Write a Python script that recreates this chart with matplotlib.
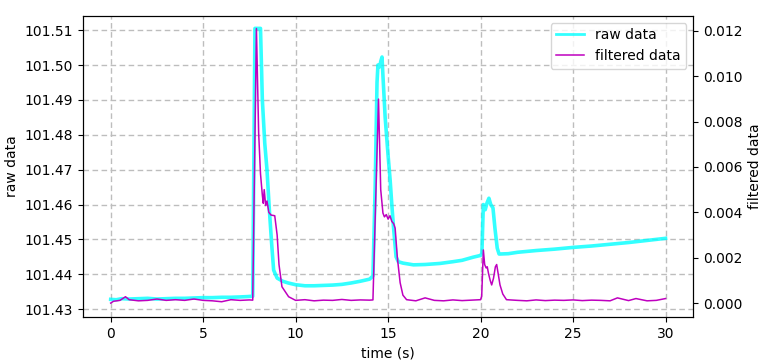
import matplotlib
matplotlib.use("Agg")
import matplotlib.pyplot as plt
from matplotlib.ticker import FormatStrFormatter

# raw data (time in s, values)
raw_t = [0.0, 0.3, 0.6, 1.0, 1.5, 2.0, 2.5, 3.0, 3.5, 4.0, 4.5, 5.0, 5.5, 6.0, 6.5, 7.0, 7.4, 7.68,
         7.8, 7.92, 8.1, 8.2, 8.33, 8.45, 8.58, 8.7, 8.81, 9.0, 9.3, 9.6, 10.0, 10.5, 11.0, 11.5,
         12.0, 12.5, 13.0, 13.5, 14.0, 14.18, 14.3, 14.4, 14.45, 14.55, 14.6, 14.67, 14.72, 14.84,
         15.0, 15.11, 15.2, 15.29, 15.43, 15.55, 15.8, 16.37, 17.0, 17.8, 18.5, 19.0, 19.6, 20.0,
         20.07, 20.15, 20.25, 20.35, 20.45, 20.55, 20.67, 20.78, 20.9, 21.0, 21.5, 22.0, 23.0,
         24.0, 25.0, 26.0, 27.0, 28.0, 29.0, 30.0]
raw_v = [101.4328, 101.4327, 101.4330, 101.4329, 101.4330, 101.4331, 101.4329, 101.4330, 101.4331,
         101.4331, 101.4332, 101.4333, 101.4333, 101.4334, 101.4334, 101.4335, 101.4336, 101.4337,
         101.5105, 101.5105, 101.5105, 101.4900, 101.4776, 101.4700, 101.4584, 101.4490, 101.4412,
         101.4389, 101.4380, 101.4375, 101.4370, 101.4367, 101.4367, 101.4368, 101.4369, 101.4371,
         101.4375, 101.4380, 101.4386, 101.4395, 101.4650, 101.4950, 101.5000, 101.4995, 101.5010,
         101.5023, 101.4970, 101.4850, 101.4740, 101.4670, 101.4600, 101.4536, 101.4450, 101.4436,
         101.4432, 101.4427, 101.4428, 101.4431, 101.4436, 101.4440, 101.4449, 101.4454, 101.4460,
         101.4600, 101.4585, 101.4605, 101.4618, 101.4600, 101.4590, 101.4530, 101.4475, 101.4458,
         101.4459, 101.4463, 101.4468, 101.4472, 101.4477, 101.4481, 101.4486, 101.4491, 101.4497,
         101.4503]

# filtered data (rows of 10)
filt_t = [0.0, 0.15, 0.5, 0.8, 1.0, 1.5, 2.0, 2.5, 3.0, 3.5,
          4.0, 4.5, 5.0, 5.5, 6.0, 6.5, 7.0, 7.5, 7.68, 7.88,
          8.0, 8.1, 8.2, 8.25, 8.3, 8.38, 8.45, 8.55, 8.67, 8.87,
          9.0, 9.1, 9.26, 9.62, 10.0, 10.5, 11.0, 11.5, 12.0, 12.5,
          13.0, 13.5, 14.0, 14.18, 14.48, 14.6, 14.72, 14.8, 14.9, 15.0,
          15.1, 15.2, 15.3, 15.38, 15.5, 15.65, 15.8, 16.0, 16.5, 17.0,
          17.5, 18.0, 18.5, 19.0, 19.5, 20.0, 20.06, 20.15, 20.22, 20.3,
          20.36, 20.43, 20.52, 20.6, 20.7, 20.8, 20.87, 20.95, 21.05, 21.2,
          21.4, 22.0, 22.5, 23.0, 23.5, 24.0, 24.5, 25.0, 25.5, 26.0,
          26.5, 27.0, 27.4, 28.0, 28.4, 29.0, 29.5, 30.0]
filt_v = [0.00000, 0.00008, 0.00012, 0.00028, 0.00015, 0.00010, 0.00012, 0.00018, 0.00012, 0.00015,
          0.00012, 0.00018, 0.00012, 0.00010, 0.00006, 0.00015, 0.00012, 0.00014, 0.00013, 0.01210,
          0.00750, 0.00570, 0.00476, 0.00440, 0.00500, 0.00430, 0.00450, 0.00400, 0.00388, 0.00385,
          0.00300, 0.00170, 0.00072, 0.00028, 0.00012, 0.00015, 0.00010, 0.00013, 0.00012, 0.00016,
          0.00012, 0.00014, 0.00013, 0.00014, 0.00899, 0.00500, 0.00397, 0.00380, 0.00390, 0.00370,
          0.00385, 0.00360, 0.00350, 0.00330, 0.00200, 0.00090, 0.00035, 0.00015, 0.00010, 0.00023,
          0.00012, 0.00010, 0.00014, 0.00011, 0.00013, 0.00015, 0.00030, 0.00234, 0.00170, 0.00155,
          0.00160, 0.00130, 0.00100, 0.00080, 0.00110, 0.00160, 0.00170, 0.00130, 0.00080, 0.00040,
          0.00015, 0.00012, 0.00010, 0.00014, 0.00011, 0.00013, 0.00012, 0.00014, 0.00011, 0.00013,
          0.00012, 0.00010, 0.00023, 0.00011, 0.00020, 0.00010, 0.00012, 0.00020]

fig = plt.figure(figsize=(7.61, 3.60), dpi=100)
ax1 = fig.add_axes([0.109, 0.119, 0.802, 0.837])
ax2 = ax1.twinx()

l1, = ax1.plot(raw_t, raw_v, color="cyan", alpha=0.8, lw=2.6, label="raw data")
l2, = ax2.plot(filt_t, filt_v, color="m", lw=1.1, label="filtered data")

ax1.set_xlim(-1.5, 31.5)
ax1.set_ylim(101.4277, 101.5141)
ax2.set_ylim(-0.00062, 0.01266)
ax1.set_yticks([101.43, 101.44, 101.45, 101.46, 101.47, 101.48, 101.49, 101.50, 101.51])
ax1.yaxis.set_major_formatter(FormatStrFormatter("%.2f"))
ax2.set_yticks([0.0, 0.002, 0.004, 0.006, 0.008, 0.010, 0.012])
ax2.yaxis.set_major_formatter(FormatStrFormatter("%.3f"))
ax1.set_xticks([0, 5, 10, 15, 20, 25, 30])

ax1.grid(True, linestyle=(0, (4, 2.5)), color="#bdbdbd", linewidth=1.0)
ax1.set_xlabel("time (s)")
ax1.set_ylabel("raw data")
ax2.set_ylabel("filtered data")

leg = ax2.legend([l1, l2], ["raw data", "filtered data"], loc="upper right")
leg.get_lines()[0].set_linewidth(2.0)

fig.savefig("out.png", dpi=100)
